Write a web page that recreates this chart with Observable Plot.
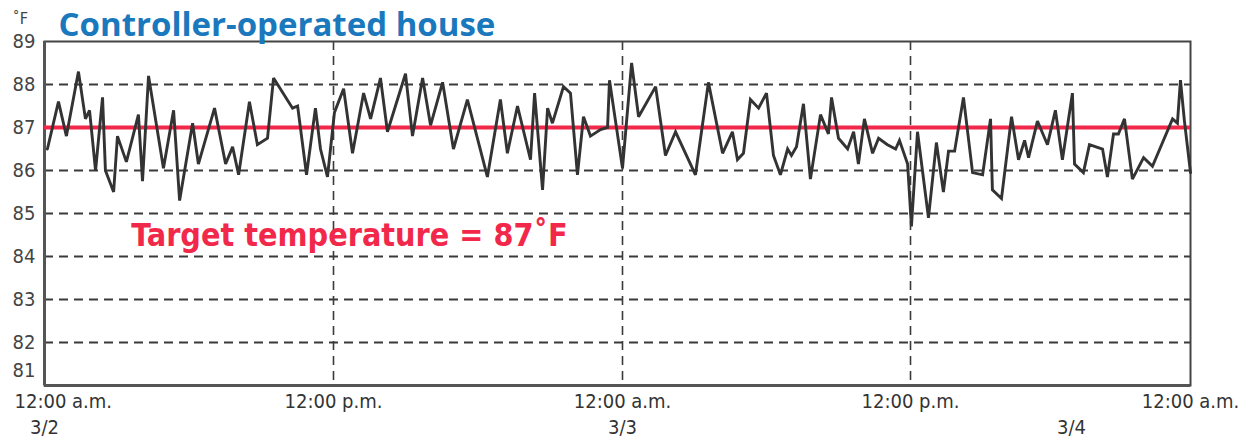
<!DOCTYPE html>
<html>
<head>
<meta charset="utf-8">
<script src="https://cdn.jsdelivr.net/npm/d3@7"></script>
<script src="https://cdn.jsdelivr.net/npm/@observablehq/plot@0.6"></script>
<style>
  html, body { margin: 0; padding: 0; background: #fff; }
  #chart svg { display: block; }
</style>
</head>
<body>
<div id="chart"></div>
<script>
// Hours since 12:00 a.m. 3/2
const hours = [0.12,0.58,0.91,1.41,1.70,1.87,2.12,2.41,2.53,2.87,3.03,3.40,3.90,4.07,4.32,4.94,5.36,5.61,6.15,6.39,
  7.06,7.52,7.81,8.06,8.51,8.84,9.26,9.51,10.30,10.51,10.88,11.25,11.46,11.75,
  12.04,12.42,12.79,13.25,13.54,13.95,14.24,14.99,15.28,15.70,16.03,16.53,16.98,17.56,18.39,18.93,
  19.22,19.64,20.18,20.35,20.68,20.89,21.09,21.55,21.84,22.13,22.38,22.67,23.09,23.38,23.46,
  24.00,24.38,24.67,25.38,25.79,26.21,27.04,27.58,28.17,28.58,28.79,29.04,29.33,29.67,30.00,
  30.29,30.58,30.88,31.04,31.25,31.54,31.83,32.25,32.58,32.71,33.00,33.38,33.63,33.83,34.08,34.42,34.67,35.04,35.38,35.54,35.88,
  36.04,36.30,36.77,37.11,37.41,37.63,37.89,38.27,38.66,39.09,39.43,39.51,39.90,40.33,40.63,40.89,41.06,41.44,41.87,
  42.21,42.51,42.94,43.03,43.41,43.67,44.23,44.44,44.70,44.91,45.17,45.51,45.99,46.37,47.23,47.44,47.57,47.74,48.00];
const temps = [86.5,87.6,86.8,88.3,87.2,87.4,86.0,87.7,86.0,85.5,86.8,86.2,87.3,85.75,88.2,86.05,87.4,85.3,87.1,86.15,
  87.45,86.15,86.55,85.9,87.6,86.6,86.75,88.15,87.45,87.5,85.9,87.45,86.5,85.85,
  87.35,87.9,86.4,87.8,87.2,88.15,86.9,88.25,86.8,88.15,87.05,88.05,86.5,87.65,85.85,87.65,
  86.4,87.5,86.25,87.8,85.55,87.45,87.1,87.95,87.8,85.9,87.25,86.8,86.95,87.0,88.1,
  86.05,88.5,87.25,87.95,86.35,86.9,85.9,88.05,86.4,86.9,86.25,86.4,87.65,87.45,87.8,
  86.35,85.9,86.5,86.35,86.55,87.55,85.8,87.3,86.85,87.7,86.75,86.5,86.9,86.15,87.2,86.4,86.75,86.6,86.5,86.7,86.15,
  84.7,86.9,84.9,86.65,85.5,86.45,86.45,87.7,85.95,85.9,87.2,85.55,85.35,87.25,86.25,86.7,86.3,87.15,86.6,
  87.4,86.25,87.8,86.15,85.95,86.6,86.5,85.85,86.85,86.85,87.2,85.8,86.3,86.1,87.2,87.1,88.1,87.15,85.95];

const target = 87;
const yTicks = [82, 83, 84, 85, 86, 87, 88, 89];
const yBottomTick = [81];
const gridY = [82, 83, 84, 85, 86, 87, 88];
const gridX = [12, 24, 36];
const xTickHours = [12, 24, 36, 48];
const xTickLabels = ["12:00 p.m.", "12:00 a.m.", "12:00 p.m.", "12:00 a.m."];
const firstTickHour = [0];
const firstTickLabel = ["12:00 a.m."];
const dateHours = [0, 24, 42.9];
const dateLabels = ["3/2", "3/3", "3/4"];

const data = hours.map((h, i) => ({h, t: temps[i]}));
const xTicks = xTickHours.map((h, i) => ({h, label: xTickLabels[i]}));
const dates = dateHours.map((h, i) => ({h, label: dateLabels[i]}));

// The original's half-day intervals are slightly unequal; warp hours accordingly
const warp = d3.scaleLinear().domain([0, 12, 24, 36, 48]).range([0, 289, 578, 866, 1146]);

const labelFont = "'Liberation Sans Narrow', 'DejaVu Sans Condensed', 'Roboto', sans-serif";

const chart = Plot.plot({
  width: 1241,
  height: 440,
  marginLeft: 44,
  marginRight: 51,
  marginTop: 41,
  marginBottom: 55,
  x: {transform: warp, domain: [0, 1146], axis: null},
  y: {domain: [81, 89], axis: null},
  style: {fontFamily: labelFont, background: "#fff"},
  marks: [
    Plot.ruleY(gridY, {stroke: "#3a3a3a", strokeWidth: 1.8, strokeDasharray: "9,6"}),
    Plot.ruleX(gridX, {stroke: "#3a3a3a", strokeWidth: 1.6, strokeDasharray: "9,6"}),
    Plot.frame({stroke: "#444", strokeWidth: 2}),
    Plot.ruleX([0], {stroke: "#555", strokeWidth: 3}),
    Plot.ruleY([81], {stroke: "#555", strokeWidth: 3}),
    Plot.ruleY([target], {stroke: "#f2284a", strokeWidth: 4}),
    Plot.line(data, {x: "h", y: "t", stroke: "#333", strokeWidth: 2.9, strokeLinejoin: "miter", strokeMiterlimit: 3}),
    // y tick labels
    Plot.text(yTicks, {x: 0, y: d => d, text: d => String(d), textAnchor: "end", dx: -9, fontSize: 20, fill: "#444"}),
    Plot.text(yBottomTick, {x: 0, y: d => d, text: d => String(d), textAnchor: "end", dx: -9, dy: -15, fontSize: 20, fill: "#444"}),
    // x tick labels
    Plot.text(xTicks, {x: "h", y: 81, text: "label", dy: 16, fontSize: 20, fill: "#333"}),
    Plot.text(firstTickLabel, {x: firstTickHour[0], y: 81, text: d => d, textAnchor: "start", dx: -30, dy: 16, fontSize: 20, fill: "#333"}),
    Plot.text(dates, {x: "h", y: 81, text: "label", dy: 42, fontSize: 20, fill: "#333"}),
    // target label
    Plot.text(["Target temperature = 87˚F"], {x: 3.6, y: 84.52, dy: 2, text: d => d, textAnchor: "start", fontSize: 32, fontWeight: "bold", fill: "#f2284a"}),
    // title and unit
    Plot.text(["Controller-operated house"], {frameAnchor: "top-left", dx: 14, dy: -29, textAnchor: "start", fontSize: 33, fontWeight: "bold", fill: "#1a78bd", fontFamily: "'Open Sans', 'Liberation Sans', sans-serif"}),
    Plot.text(["˚F"], {frameAnchor: "top-left", dx: -32, dy: -29, textAnchor: "start", fontSize: 16, fill: "#444"})
  ]
});
document.getElementById("chart").appendChild(chart);
</script>
</body>
</html>
